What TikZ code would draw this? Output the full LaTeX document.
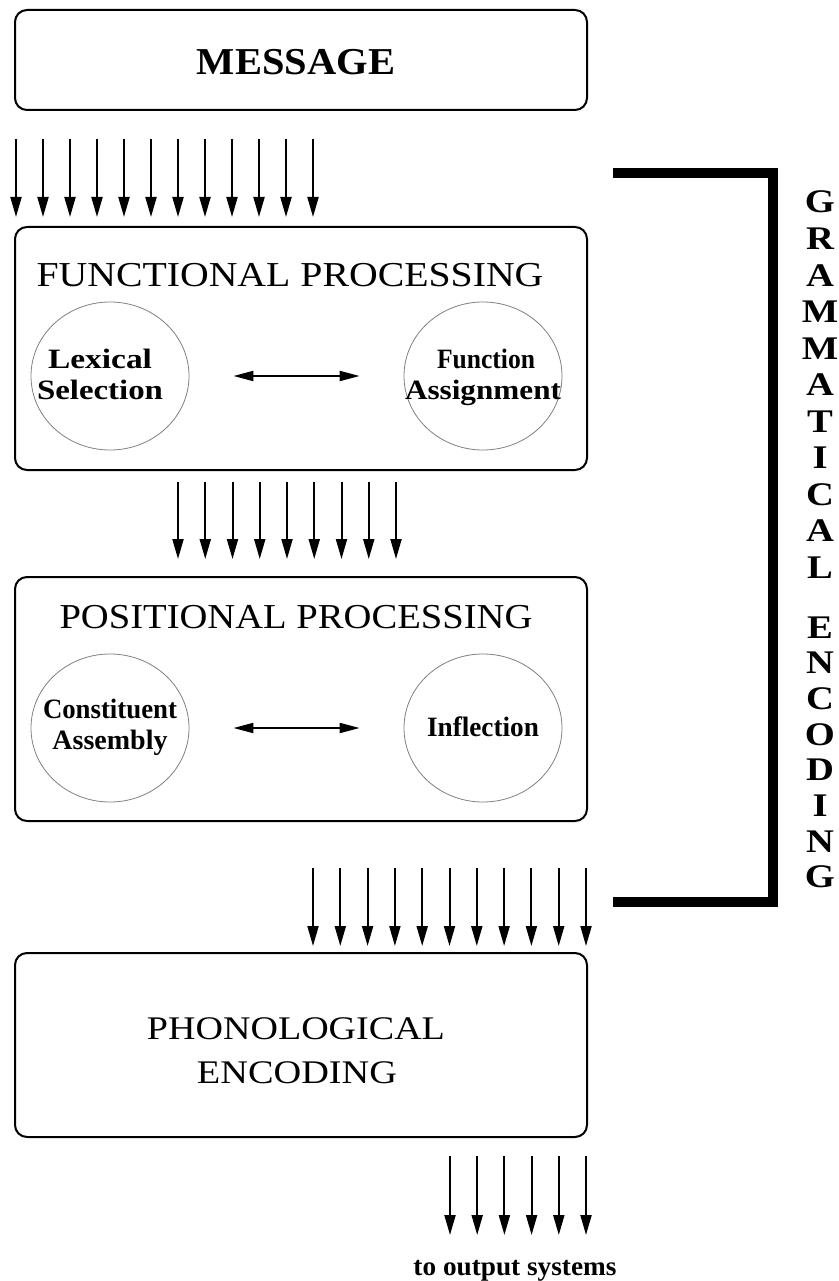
\documentclass[tikz,border=0pt]{standalone}
\usepackage{fontspec}
\setmainfont{Liberation Serif}
\usepackage{graphicx}
\usetikzlibrary{arrows.meta,shapes.geometric}
\newcommand{\hs}[2]{\scalebox{#1}[1]{#2}}
\begin{document}
\begin{tikzpicture}[x=1pt,y=-1pt,
  box/.style={draw, line width=2pt, rounded corners=12pt, minimum width=572pt, inner sep=0pt},
  flow/.style={line width=2pt, -{Triangle[length=20pt,width=11pt]}},
  dbl/.style={line width=2pt, {Triangle[length=20pt,width=10pt]}-{Triangle[length=20pt,width=10pt]}, shorten <=44pt, shorten >=44pt},
  proc/.style={draw=black!50, line width=0.8pt, ellipse, minimum width=158pt, minimum height=148pt, inner sep=0pt},
  ttl/.style={inner sep=0pt, anchor=base, font=\fontsize{35}{38}\selectfont},
  ctxt/.style={inner sep=0pt, anchor=base, font=\fontsize{28}{31}\selectfont\bfseries},
  vlet/.style={inner sep=0pt, anchor=base, font=\fontsize{33}{36}\selectfont\bfseries},
  brk/.style={line width=10pt, line join=miter}
]
\useasboundingbox (0,0) rectangle (838,1281);

% boxes
\node[box, minimum height=100pt] (msg) at (301,60) {};
\node[box, minimum height=243pt] (fp) at (301,348.5) {};
\node[box, minimum height=244pt] (pp) at (301,699) {};
\node[box, minimum height=184pt] (ph) at (301,1045) {};

% titles
\node[ttl, font=\fontsize{38}{40}\selectfont\bfseries] (msgt) at (296,75) {\hs{1.066}{MESSAGE}};
\node[ttl] (fpt) at (290,286) {\hs{1.136}{FUNCTIONAL PROCESSING}};
\node[ttl] (ppt) at (296,628) {\hs{1.103}{POSITIONAL PROCESSING}};
\node[ttl, font=\fontsize{33}{36}\selectfont] (pht1) at (296,1039) {\hs{1.153}{PHONOLOGICAL}};
\node[ttl, font=\fontsize{33}{36}\selectfont] (pht2) at (297,1083) {\hs{1.161}{ENCODING}};

% circles
\node[proc] (lex) at (110,376) {};
\node[proc] (fun) at (483,376) {};
\node[proc] (con) at (110,728) {};
\node[proc] (inf) at (483,728) {};

\node[ctxt] (lex1) at (100,368) {\hs{1.194}{Lexical}};
\node[ctxt] (lex2) at (100,399) {\hs{1.174}{Selection}};
\node[ctxt] (fun1) at (486,368) {\hs{0.913}{Function}};
\node[ctxt] (fun2) at (483,399) {\hs{1.114}{Assignment}};
\node[ctxt] (con1) at (110,718) {\hs{0.957}{Constituent}};
\node[ctxt] (con2) at (110,749) {\hs{1.0}{Assembly}};
\node[ctxt] (inf1) at (483,736) {\hs{0.973}{Inflection}};

\draw[dbl] (lex.east) -- (fun.west);
\draw[dbl] (con.east) -- (inf.west);

% arrow rows
\foreach \i in {0,...,11} \draw[flow] ({16+27*\i},139) -- ({16+27*\i},217);
\foreach \i in {0,...,8} \draw[flow] ({178+27.25*\i},482) -- ({178+27.25*\i},559);
\foreach \i in {0,...,10} \draw[flow] ({313+27.3*\i},868) -- ({313+27.3*\i},946);
\foreach \i in {0,...,5} \draw[flow] ({450+27.2*\i},1156) -- ({450+27.2*\i},1235);

\node[ctxt, font=\fontsize{27}{31}\selectfont\bfseries] (out) at (515,1275) {\hs{1.01}{to output systems}};

% bracket
\coordinate (b1) at (613,173);
\coordinate (b2) at (773,173);
\coordinate (b3) at (773,902);
\coordinate (b4) at (613,902);
\draw[brk] (b1) -- (b2) -- (b3) -- (b4);

% vertical label
\foreach \ch [count=\i from 0] in {G,R,A,M,M,A,T,I,C,A,L}
  \node[vlet] (ga\i) at (820,{213+36.5*\i}) {\hs{1.17}{\ch}};
\foreach \ch [count=\i from 0] in {E,N,C,O,D,I,N,G}
  \node[vlet] (gb\i) at (820,{638+35.7*\i}) {\hs{1.17}{\ch}};
\end{tikzpicture}
\end{document}
